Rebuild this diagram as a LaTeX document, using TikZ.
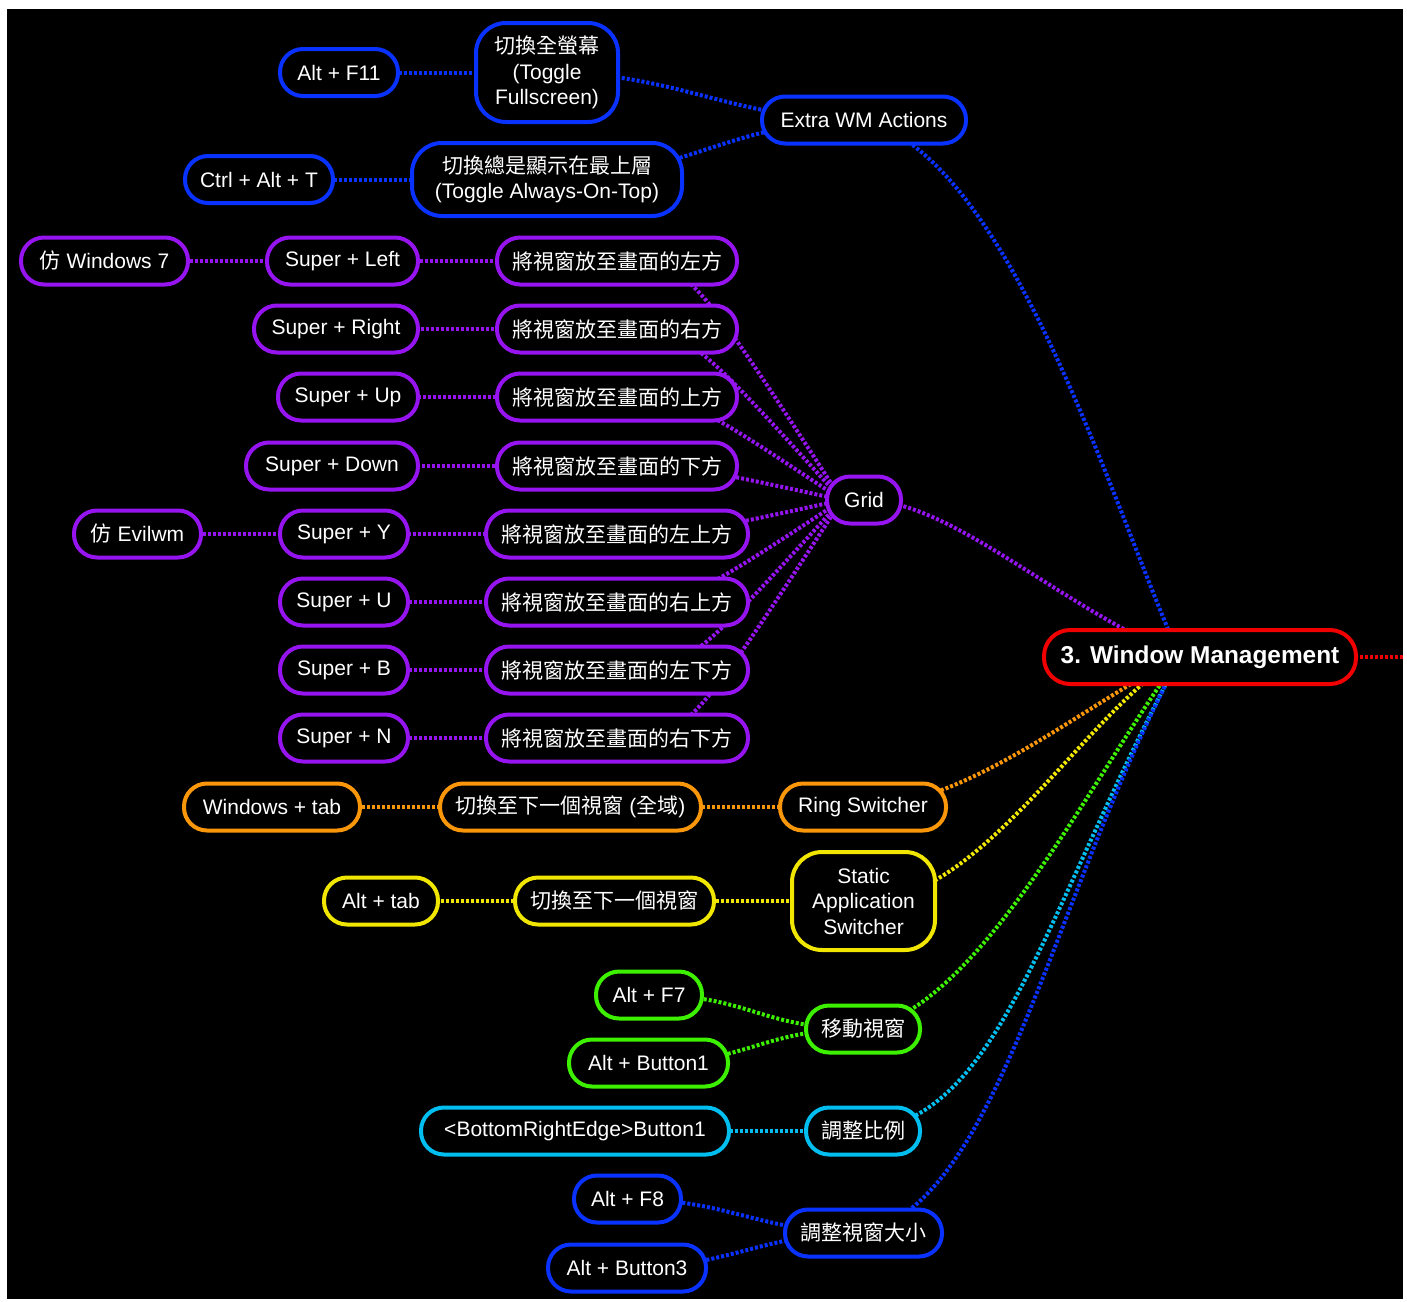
\documentclass[tikz,border=0pt]{standalone}
\usepackage{fontspec}
\setmainfont{Liberation Sans}
\newfontfamily\cjk{Noto Sans CJK TC}
\pgfdeclarelayer{bg}
\pgfdeclarelayer{edges}
\pgfsetlayers{bg,edges,main}
\definecolor{cblue}{RGB}{10,50,255}
\definecolor{cpurple}{RGB}{150,20,240}
\definecolor{cred}{RGB}{240,0,0}
\definecolor{corange}{RGB}{250,150,10}
\definecolor{cyellow}{RGB}{240,230,0}
\definecolor{cgreen}{RGB}{60,240,0}
\definecolor{ccyan}{RGB}{0,190,240}
\begin{document}
\begin{tikzpicture}[x=0.5pt,y=-0.5pt,
  box/.style={draw=#1, line width=2pt, fill=black, text=white, rounded corners=11.5pt,
    minimum height=23.5pt, inner sep=0pt, align=center, font={\fontsize{10.5pt}{12.75pt}\selectfont}},
  tallbox/.style={box=#1, rounded corners=15pt},
  conn/.style={draw=#1, line width=2pt, dash pattern=on 1.5pt off 1pt}]
\useasboundingbox (0,0) rectangle (1407,1301);
\begin{pgfonlayer}{bg}
\fill[white] (0,0) rectangle (1407,1301);
\fill[black] (7,9) rectangle (1403,1299);
\end{pgfonlayer}

% root
\node[box=cred, minimum width=156pt, minimum height=27pt, rounded corners=13pt,
  font={\fontsize{12.2pt}{14pt}\selectfont\bfseries}] (wm) at (1200,657) {3. Window Management};
\coordinate (redend) at (1403,657);

% blue top
\node[box=cblue, minimum width=59pt] (altf11) at (339,72.5) {Alt + F11};
\node[tallbox=cblue, minimum width=71pt, minimum height=49.5pt] (fullscr) at (547,72.5) {{\cjk 切換全螢幕}\\(Toggle\\Fullscreen)};
\node[box=cblue, minimum width=102pt] (extrawm) at (864,120) {Extra WM Actions};
\node[box=cblue, minimum width=74pt] (ctrlaltt) at (259,179.5) {Ctrl + Alt + T};
\node[tallbox=cblue, minimum width=135pt, minimum height=36.5pt] (aot) at (547,179.5) {{\cjk 切換總是顯示在最上層}\\(Toggle Always-On-Top)};

% purple
\node[box=cpurple, minimum width=83.5pt] (win7) at (104.5,261) {{\cjk 仿} Windows 7};
\node[box=cpurple, minimum width=75.5pt] (sleft) at (342.5,261) {Super + Left};
\node[box=cpurple, minimum width=120pt] (gleft) at (617,261) {\cjk 將視窗放至畫面的左方};
\node[box=cpurple, minimum width=82pt] (sright) at (336,329) {Super + Right};
\node[box=cpurple, minimum width=120pt] (gright) at (617,329) {\cjk 將視窗放至畫面的右方};
\node[box=cpurple, minimum width=70pt] (sup) at (348,397) {Super + Up};
\node[box=cpurple, minimum width=120pt] (gup) at (617,397) {\cjk 將視窗放至畫面的上方};
\node[box=cpurple, minimum width=86pt] (sdown) at (332,466) {Super + Down};
\node[box=cpurple, minimum width=120pt] (gdown) at (617,466) {\cjk 將視窗放至畫面的下方};
\node[box=cpurple, minimum width=63.5pt] (evil) at (137.5,534) {{\cjk 仿} Evilwm};
\node[box=cpurple, minimum width=64pt] (sy) at (344,534) {Super + Y};
\node[box=cpurple, minimum width=131pt] (gul) at (617,534) {\cjk 將視窗放至畫面的左上方};
\node[box=cpurple, minimum width=64pt] (su) at (344,602) {Super + U};
\node[box=cpurple, minimum width=131pt] (gur) at (617,602) {\cjk 將視窗放至畫面的右上方};
\node[box=cpurple, minimum width=64pt] (sb) at (344,670) {Super + B};
\node[box=cpurple, minimum width=131pt] (gbl) at (617,670) {\cjk 將視窗放至畫面的左下方};
\node[box=cpurple, minimum width=64pt] (sn) at (344,738) {Super + N};
\node[box=cpurple, minimum width=131pt] (gbr) at (617,738) {\cjk 將視窗放至畫面的右下方};
\node[box=cpurple, minimum width=37pt] (grid) at (864,500) {Grid};

% orange
\node[box=corange, minimum width=88pt] (wintab) at (272,807) {Windows + tab};
\node[box=corange, minimum width=130.5pt] (nextall) at (570.5,807) {{\cjk 切換至下一個視窗} ({\cjk 全域})};
\node[box=corange, minimum width=83pt] (ring) at (863,807) {Ring Switcher};

% yellow
\node[box=cyellow, minimum width=57pt] (alttab) at (381,901) {Alt + tab};
\node[box=cyellow, minimum width=99.5pt] (nextwin) at (614.5,901) {\cjk 切換至下一個視窗};
\node[tallbox=cyellow, minimum width=71.5pt, minimum height=49pt] (static) at (863.5,901) {Static\\Application\\Switcher};

% green
\node[box=cgreen, minimum width=53pt] (altf7) at (649,995) {Alt + F7};
\node[box=cgreen, minimum width=79.5pt] (altb1) at (648.5,1063) {Alt + Button1};
\node[box=cgreen, minimum width=57pt] (move) at (863,1029) {\cjk 移動視窗};

% cyan
\node[box=ccyan, minimum width=154pt] (bre) at (575,1131) {<BottomRightEdge>Button1};
\node[box=ccyan, minimum width=57pt] (scale) at (863,1131) {\cjk 調整比例};

% blue bottom
\node[box=cblue, minimum width=53.5pt] (altf8) at (627.5,1199) {Alt + F8};
\node[box=cblue, minimum width=79pt] (altb3) at (627,1268) {Alt + Button3};
\node[box=cblue, minimum width=78.5pt] (resize) at (863.5,1233) {\cjk 調整視窗大小};

\begin{pgfonlayer}{edges}
\draw[conn=cred] (wm.center) -- (redend);
% blue top
\draw[conn=cblue] (altf11.center) -- (fullscr.center);
\draw[conn=cblue] (ctrlaltt.center) -- (aot.center);
\draw[conn=cblue] (fullscr.center) .. controls (680,72.5) and (730,120) .. (extrawm.center);
\draw[conn=cblue] (aot.center) .. controls (680,179.5) and (730,120) .. (extrawm.center);
\draw[conn=cblue] (extrawm.center) .. controls (1010,160) and (1110,500) .. ([xshift=-10pt]wm.center);
% purple
\draw[conn=cpurple] (win7.center) -- (sleft.center) -- (gleft.center);
\draw[conn=cpurple] (sright.center) -- (gright.center);
\draw[conn=cpurple] (sup.center) -- (gup.center);
\draw[conn=cpurple] (sdown.center) -- (gdown.center);
\draw[conn=cpurple] (evil.center) -- (sy.center) -- (gul.center);
\draw[conn=cpurple] (su.center) -- (gur.center);
\draw[conn=cpurple] (sb.center) -- (gbl.center);
\draw[conn=cpurple] (sn.center) -- (gbr.center);
\draw[conn=cpurple] (gleft.center) .. controls (687,261) .. ([xshift=-11pt]grid.center);
\draw[conn=cpurple] (gright.center) .. controls (687,329) .. ([xshift=-11pt]grid.center);
\draw[conn=cpurple] (gup.center) .. controls (687,397) .. ([xshift=-11pt]grid.center);
\draw[conn=cpurple] (gdown.center) .. controls (687,466) .. ([xshift=-11pt]grid.center);
\draw[conn=cpurple] (gul.center) .. controls (687,534) .. ([xshift=-11pt]grid.center);
\draw[conn=cpurple] (gur.center) .. controls (687,602) .. ([xshift=-11pt]grid.center);
\draw[conn=cpurple] (gbl.center) .. controls (687,670) .. ([xshift=-11pt]grid.center);
\draw[conn=cpurple] (gbr.center) .. controls (687,738) .. ([xshift=-11pt]grid.center);
\draw[conn=cpurple] (grid.center) .. controls (950,500) and (1050,600) .. ([xshift=-10pt]wm.center);
% orange
\draw[conn=corange] (wintab.center) -- (nextall.center) -- (ring.center);
\draw[conn=corange] (ring.center) .. controls (970,805) and (1090,700) .. ([xshift=-10pt]wm.center);
% yellow
\draw[conn=cyellow] (alttab.center) -- (nextwin.center) -- (static.center);
\draw[conn=cyellow] (static.center) .. controls (980,905) and (1090,705) .. ([xshift=-10pt]wm.center);
% green
\draw[conn=cgreen] (altf7.center) .. controls (750,995) and (760,1029) .. (move.center);
\draw[conn=cgreen] (altb1.center) .. controls (750,1063) and (760,1029) .. (move.center);
\draw[conn=cgreen] (move.center) .. controls (980,1010) and (1095,770) .. ([xshift=-10pt]wm.center);
% cyan
\draw[conn=ccyan] (bre.center) -- (scale.center);
\draw[conn=ccyan] (scale.center) .. controls (1000,1120) and (1040,920) .. ([xshift=-10pt]wm.center);
% blue bottom
\draw[conn=cblue] (altf8.center) .. controls (730,1199) and (760,1233) .. (resize.center);
\draw[conn=cblue] (altb3.center) .. controls (730,1268) and (760,1233) .. (resize.center);
\draw[conn=cblue] (resize.center) .. controls (1000,1200) and (1050,900) .. ([xshift=-10pt]wm.center);
\end{pgfonlayer}
\end{tikzpicture}
\end{document}
